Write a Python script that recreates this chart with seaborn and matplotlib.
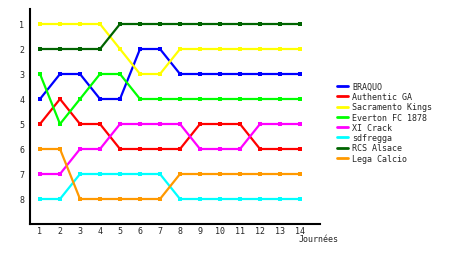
import matplotlib
matplotlib.use("Agg")
import matplotlib.pyplot as plt
from matplotlib.lines import Line2D
import seaborn as sns
import pandas as pd

rounds = list(range(1, 15))
teams = ["BRAQUO", "Authentic GA", "Sacramento Kings", "Everton FC 1878",
         "XI Crack", "sdfregga", "RCS Alsace", "Lega Calcio"]
braquo = [4, 3, 3, 4, 4, 2, 2, 3, 3, 3, 3, 3, 3, 3]
authentic = [5, 4, 5, 5, 6, 6, 6, 6, 5, 5, 5, 6, 6, 6]
sacramento = [1, 1, 1, 1, 2, 3, 3, 2, 2, 2, 2, 2, 2, 2]
everton = [3, 5, 4, 3, 3, 4, 4, 4, 4, 4, 4, 4, 4, 4]
xicrack = [7, 7, 6, 6, 5, 5, 5, 5, 6, 6, 6, 5, 5, 5]
sdfregga = [8, 8, 7, 7, 7, 7, 7, 8, 8, 8, 8, 8, 8, 8]
rcs = [2, 2, 2, 2, 1, 1, 1, 1, 1, 1, 1, 1, 1, 1]
lega = [6, 6, 8, 8, 8, 8, 8, 7, 7, 7, 7, 7, 7, 7]
colors = ["#0000FF", "#FF0000", "#FFFF00", "#00FF00",
          "#FF00FF", "#00FFFF", "#006400", "#FF9900"]
series = [braquo, authentic, sacramento, everton, xicrack, sdfregga, rcs, lega]

rows = []
for t, vals in zip(teams, series):
    for r, v in zip(rounds, vals):
        rows.append({"Journée": r, "Rang": v, "Equipe": t})
df = pd.DataFrame(rows)

sns.set_style("white")
plt.rcParams["font.family"] = ["DejaVu Sans Mono", "DejaVu Sans"]

fig = plt.figure(figsize=(4.6, 2.55), dpi=100)
ax = fig.add_axes([30 / 460, 1 - 225 / 255, 290 / 460, 215 / 255])

sns.lineplot(data=df, x="Journée", y="Rang", hue="Equipe", hue_order=teams,
             palette=colors, marker="s", markersize=3, markeredgewidth=0,
             linewidth=1.6, legend=False, ax=ax, estimator=None, sort=False)

ax.set_xlim(0.5, 15)
ax.set_ylim(9, 0.4)
ax.set_xticks(rounds)
ax.set_xticklabels([str(r) for r in rounds])
ax.set_yticks(range(1, 9))
ax.set_yticklabels([str(i) for i in range(1, 9)])
ax.tick_params(axis="y", length=0, labelsize=6, pad=4)
ax.tick_params(axis="x", length=0, labelsize=6, pad=1.5)
ax.set_xlabel("")
ax.set_ylabel("")
for s in ["top", "right"]:
    ax.spines[s].set_visible(False)
for s in ["left", "bottom"]:
    ax.spines[s].set_color("black")
    ax.spines[s].set_linewidth(1.5)

fig.text(339 / 460, 1 - 240 / 255, "Journées", ha="right", va="center", fontsize=6)

handles = [Line2D([0], [0], color=c, lw=2) for c in colors]
fig.legend(handles, teams, loc="upper left",
           bbox_to_anchor=(337 / 460, 1 - 83 / 255), frameon=False,
           fontsize=6, handlelength=1.3, handletextpad=0.5,
           labelspacing=0.15, borderpad=0, borderaxespad=0)

fig.savefig("out.png", dpi=100)
